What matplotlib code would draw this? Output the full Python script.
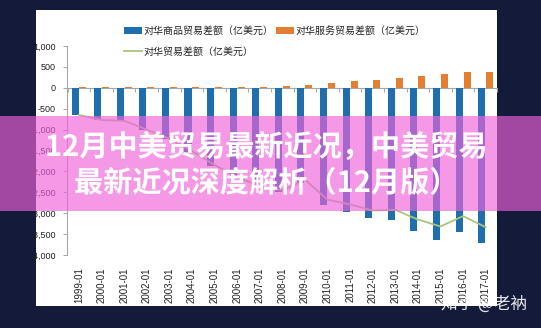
import numpy as np
import matplotlib
matplotlib.use("Agg")
import matplotlib.pyplot as plt
from matplotlib.patches import Rectangle, Patch
from matplotlib.lines import Line2D
import matplotlib.patheffects as pe

plt.rcParams['font.family'] = ['Noto Sans CJK SC', 'DejaVu Sans']

# ---- data (亿美元) ----
years = [str(y) for y in range(1999, 2018)]
year_labels = [f"{y}-01" for y in years]
goods_balance = [-660, -780, -800, -1010, -1230, -1530, -1860, -2160, -2380, -2500,
                 -2270, -2800, -2960, -3126, -3160, -3430, -3650, -3450, -3715]
services_balance = [10, 10, 10, 10, 10, 15, 15, 20, 30, 45,
                    70, 125, 172, 190, 240, 278, 333, 381, 381]
total_balance = [-650, -770, -790, -1000, -1220, -1515, -1845, -2140, -2350, -2455,
                 -2200, -2675, -2790, -2936, -2920, -3152, -3317, -3069, -3334]
y_ticks = list(range(-4000, 1001, 500))

label_goods = "对华商品贸易差额（亿美元）"
label_services = "对华服务贸易差额（亿美元）"
label_total = "对华贸易差额（亿美元）"
banner_lines = ["12月中美贸易最新近况，中美贸易", "最新近况深度解析（12月版）"]
watermark = "知乎 @老衲"

# ---- styles ----
navy = "#141a3a"
blue = "#1f6fae"
orange = "#e47e30"
green = "#a9c47f"
axis_gray = "#a6a6a6"
text_dark = "#222222"

W, H = 541, 328
fig = plt.figure(figsize=(W / 100, H / 100), dpi=100)
fig.patch.set_facecolor(navy)

# white chart panel
fig.add_artist(Rectangle((36 / W, 1 - 306 / H), (497 - 36) / W, (306 - 10) / H,
                         transform=fig.transFigure, facecolor="white",
                         edgecolor="none", zorder=0))

ax = fig.add_axes([67 / W, 1 - 255 / H, (497 - 67) / W, (255 - 46) / H])
ax.set_facecolor("none")
ax.set_zorder(1)

x = np.arange(len(years))
bw = 0.31
ax.bar(x - 0.175, goods_balance, bw, color=blue, zorder=2)
ax.bar(x + 0.175, services_balance, bw, color=orange, zorder=2)
ax.plot(x, total_balance, color=green, lw=1.3, zorder=3)

ax.set_xlim(-0.53, len(years) - 0.5)
ax.set_ylim(-4000, 1000)

ax.set_yticks(y_ticks)
ax.set_yticklabels([f"{v:,}" for v in y_ticks], family="Liberation Sans",
                   fontsize=6.5, color=text_dark)
ax.tick_params(axis="y", length=3, width=0.7, color=axis_gray, pad=5)

ax.set_xticks(x)
ax.set_xticklabels(year_labels, rotation=90, family="Liberation Sans",
                   fontsize=7, color=text_dark, va="top", ha="center")
ax.tick_params(axis="x", length=0, pad=9)

for s in ("top", "right", "bottom"):
    ax.spines[s].set_visible(False)
ax.spines["left"].set_color(axis_gray)
ax.spines["left"].set_linewidth(0.8)

# horizontal category axis crossing at zero
zero_axis = ax.secondary_xaxis(0, transform=ax.transData)
zero_axis.set_xticks(np.arange(-0.5, len(years), 1.0))
zero_axis.tick_params(axis="x", length=3, width=0.7, color=axis_gray,
                      labelbottom=False, direction="out")
zero_axis.spines["bottom"].set_color(axis_gray)
zero_axis.spines["bottom"].set_linewidth(0.8)

handles = [Patch(facecolor=blue), Line2D([], [], color=green, lw=1.3),
           Patch(facecolor=orange)]
labels = [label_goods, label_total, label_services]
ax.legend(handles, labels, ncol=2, loc="upper left",
          bbox_to_anchor=(124 / W, 1 - 26 / H), bbox_transform=fig.transFigure,
          frameon=False, fontsize=7.2, handlelength=1.8, handleheight=0.7,
          handletextpad=0.1, columnspacing=0.3, labelspacing=1.05,
          borderpad=0, borderaxespad=0, labelcolor=text_dark)

# translucent title banner
fig.add_artist(Rectangle((0, 1 - 211 / H), 1, (211 - 116) / H,
                         transform=fig.transFigure, facecolor="#f062db",
                         alpha=0.65, edgecolor="none", zorder=5))
for txt, yc in zip(banner_lines, (147, 183)):
    t = fig.text(266 / W, 1 - yc / H, txt, ha="center", va="center",
                 fontsize=21, fontweight="bold", color="white", zorder=6,
                 family=["Noto Sans CJK SC", "DejaVu Sans"])
    t.set_path_effects([pe.SimpleLineShadow(offset=(1, -1), shadow_color="#444444", alpha=0.4),
                        pe.Normal()])

fig.text(484 / W, 1 - 304 / H, watermark, ha="center", va="center",
         fontsize=12, color="white", alpha=0.9, zorder=6,
         family=["Noto Sans CJK SC", "DejaVu Sans"])

fig.savefig("out.png", dpi=100, facecolor=navy)
